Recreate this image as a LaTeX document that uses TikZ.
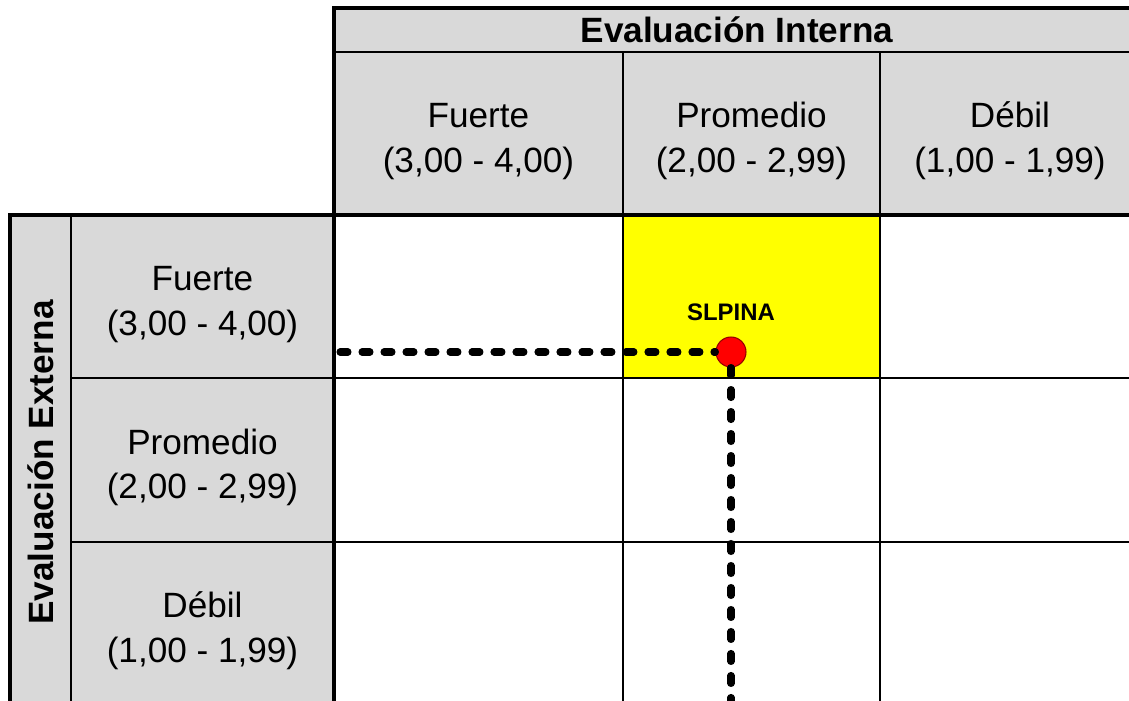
\documentclass[tikz,border=0pt]{standalone}
\usepackage{fontspec}
\setmainfont{Liberation Sans}
\usepackage{tikz}
\definecolor{cellgray}{RGB}{217, 217, 217}
\definecolor{markyellow}{RGB}{255, 255, 0}
\definecolor{dotred}{RGB}{255, 0, 0}
\definecolor{dotrim}{RGB}{150, 0, 0}
\usetikzlibrary{positioning, calc}
\newcommand{\rangetext}[2]{\rule{0pt}{23pt}#1\\#2}

\begin{document}
\begin{tikzpicture}[x=0.02cm, y=-0.02cm,
    cell/.style={draw=black, line width=1.1pt, inner sep=0pt, outer sep=0pt,
        align=center, anchor=north west, font=\fontsize{20}{25.5}\selectfont},
    headcell/.style={cell, fill=cellgray},
    titlecell/.style={cell, fill=cellgray, font=\bfseries\fontsize{20}{24}\selectfont},
    frame/.style={line width=2.8pt, line cap=rect},
    guide/.style={line width=4pt, line cap=round, dash pattern=on 0.16cm off 0.28cm},
    dot/.style={circle, fill=dotred, draw=dotrim, line width=0.6pt, minimum size=0.6cm, inner sep=0pt}]
    \useasboundingbox (0,0) rectangle (1129,700);
    \clip (0,0) rectangle (1129,700);

    % evaluacion interna (columnas)
    \node[titlecell, minimum width=16.12cm, minimum height=0.88cm] (interna) at (334,8) {Evaluación Interna};
    \node[headcell, minimum width=5.78cm, minimum height=3.26cm] (colF) at (334,52) {\rangetext{Fuerte}{(3,00 - 4,00)}};
    \node[headcell, minimum width=5.14cm, minimum height=3.26cm] (colP) at (623,52) {\rangetext{Promedio}{(2,00 - 2,99)}};
    \node[headcell, minimum width=5.2cm, minimum height=3.26cm] (colD) at (880,52) {\rangetext{Débil}{(1,00 - 1,99)}};

    % evaluacion externa (filas)
    \node[titlecell, minimum width=1.22cm, minimum height=9.9cm] (externa) at (10,215) {};
    \node[rotate=90, font=\bfseries\fontsize{20}{24}\selectfont] (externaTxt) at (externa.center) {Evaluación Externa};
    \node[headcell, minimum width=5.26cm, minimum height=3.26cm] (rowF) at (71,215) {\rangetext{Fuerte}{(3,00 - 4,00)}};
    \node[headcell, minimum width=5.26cm, minimum height=3.28cm] (rowP) at (71,378) {\rangetext{Promedio}{(2,00 - 2,99)}};
    \node[headcell, minimum width=5.26cm, minimum height=3.26cm] (rowD) at (71,542) {\rangetext{Débil}{(1,00 - 1,99)}};

    % celdas de la matriz
    \node[cell, minimum width=5.78cm, minimum height=3.26cm] (cFF) at (334,215) {};
    \node[cell, fill=markyellow, minimum width=5.14cm, minimum height=3.26cm] (cFP) at (623,215) {};
    \node[cell, minimum width=5.2cm, minimum height=3.26cm] (cFD) at (880,215) {};
    \node[cell, minimum width=5.78cm, minimum height=3.28cm] (cPF) at (334,378) {};
    \node[cell, minimum width=5.14cm, minimum height=3.28cm] (cPP) at (623,378) {};
    \node[cell, minimum width=5.2cm, minimum height=3.28cm] (cPD) at (880,378) {};
    \node[cell, minimum width=5.78cm, minimum height=3.4cm] (cDF) at (334,542) {};
    \node[cell, minimum width=5.14cm, minimum height=3.4cm] (cDP) at (623,542) {};
    \node[cell, minimum width=5.2cm, minimum height=3.4cm] (cDD) at (880,542) {};

    % bordes gruesos
    \draw[line width=1.7pt] (interna.south west) -- (interna.south east);
    \draw[frame] (interna.north east) -- (interna.north west) -- (cFF.north west) -- (cDF.south west);
    \draw[frame] (externa.north west) -- (cFD.north east);
    \draw[frame] (externa.north west) -- (externa.south west);

    % posicion
    \node[dot] (slpina) at (731,352) {};
    \node[inner sep=0pt, above=0.3cm of slpina, font=\bfseries\fontsize{13.6}{16}\selectfont] (slpinaLbl) {SLPINA};
    \coordinate (hstart) at (340,352);
    \coordinate (vend) at (731,712);
    \draw[guide] (hstart) -- (slpina);
    \draw[guide] (slpina) -- (vend);
\end{tikzpicture}
\end{document}
